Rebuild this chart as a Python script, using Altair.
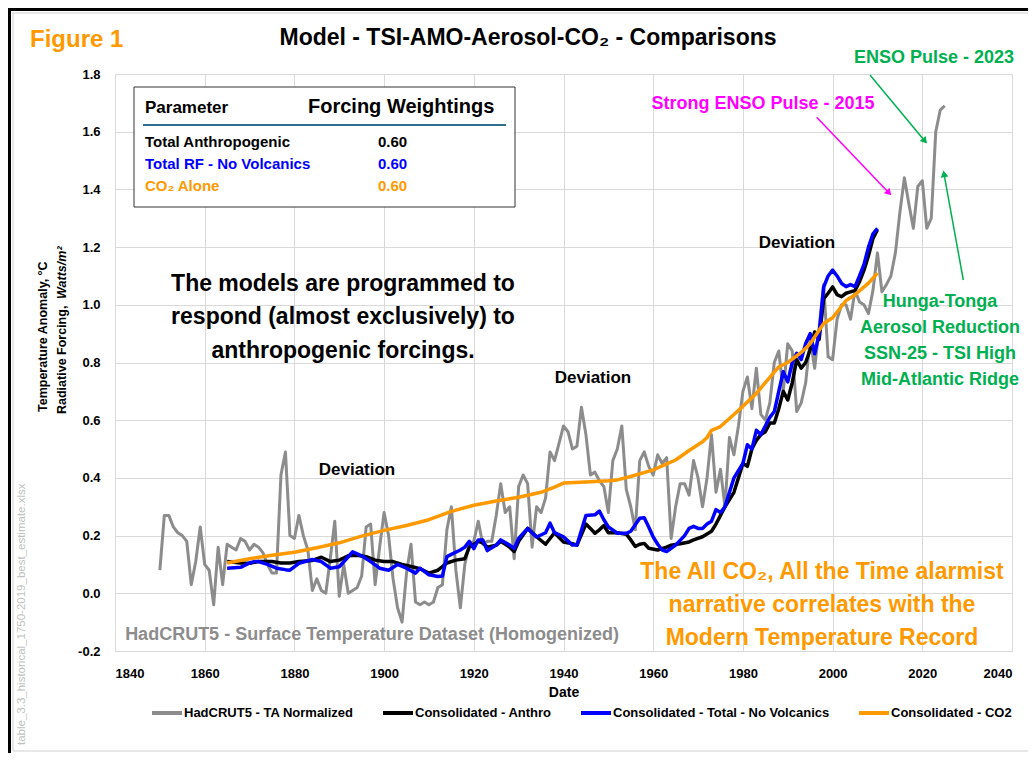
import math
import altair as alt
import pandas as pd

# ---------------- data ----------------
had_years = list(range(1850, 2026))
had_values = [
    0.08, 0.27, 0.27, 0.23, 0.21, 0.20, 0.18, 0.03, 0.11, 0.23,
    0.10, 0.08, -0.04, 0.16, 0.03, 0.17, 0.16, 0.15, 0.19, 0.18,
    0.15, 0.17, 0.16, 0.14, 0.10, 0.07, 0.07, 0.41, 0.49, 0.20,
    0.19, 0.27, 0.20, 0.15, 0.01, 0.05, 0.01, 0.00, 0.12, 0.25,
    -0.01, 0.10, 0.00, 0.01, 0.02, 0.06, 0.23, 0.24, 0.03, 0.16,
    0.28, 0.20, 0.05, -0.05, -0.10, 0.07, 0.17, -0.03, -0.04, -0.03,
    -0.04, -0.03, 0.02, 0.03, 0.22, 0.30, 0.08, -0.05, 0.10, 0.17,
    0.18, 0.25, 0.17, 0.18, 0.18, 0.27, 0.38, 0.28, 0.30, 0.12,
    0.37, 0.41, 0.38, 0.16, 0.30, 0.28, 0.33, 0.49, 0.46, 0.52,
    0.58, 0.56, 0.50, 0.51, 0.645, 0.55, 0.41, 0.42, 0.39, 0.37,
    0.28, 0.46, 0.50, 0.58, 0.36, 0.30, 0.22, 0.46, 0.49, 0.44,
    0.41, 0.48, 0.45, 0.47, 0.19, 0.30, 0.38, 0.38, 0.34, 0.46,
    0.40, 0.30, 0.40, 0.55, 0.35, 0.43, 0.30, 0.54, 0.48, 0.58,
    0.70, 0.75, 0.64, 0.78, 0.62, 0.60, 0.66, 0.80, 0.84, 0.70,
    0.865, 0.84, 0.63, 0.66, 0.73, 0.88, 0.78, 0.92, 1.07, 0.82,
    0.81, 0.95, 1.00, 1.00, 0.95, 1.05, 1.01, 1.00, 0.97, 1.05,
    1.18, 1.045, 1.07, 1.10, 1.18, 1.32, 1.44, 1.35, 1.265, 1.41,
    1.43, 1.265, 1.30, 1.60, 1.675, 1.69,
]

anthro_years = [
    1865, 1868, 1870, 1872, 1875, 1877, 1879, 1881, 1884, 1886, 1888, 1890,
    1892, 1894, 1896, 1898, 1900, 1902, 1904, 1906, 1908, 1910, 1912, 1914,
    1916, 1918, 1919, 1920, 1921, 1922, 1923, 1925, 1926, 1928, 1929, 1930,
    1932, 1934, 1936, 1937, 1938, 1940, 1942, 1943, 1945, 1946, 1947, 1948,
    1949, 1950, 1952, 1954, 1955, 1956, 1957, 1958, 1959, 1961, 1963, 1964,
    1966, 1968, 1969, 1971, 1973, 1974, 1975, 1976, 1978, 1979, 1980, 1981,
    1982, 1983, 1984, 1985, 1986, 1987, 1988, 1989, 1990, 1991, 1992, 1993,
    1994, 1995, 1996, 1997, 1998, 1999, 2000, 2001, 2002, 2003, 2004, 2005,
    2006, 2007, 2008, 2009, 2010,
]
anthro_values = [
    0.11, 0.105, 0.104, 0.11, 0.11, 0.105, 0.105, 0.11, 0.114, 0.125, 0.11, 0.115,
    0.13, 0.132, 0.127, 0.115, 0.11, 0.11, 0.10, 0.093, 0.085, 0.07, 0.08, 0.105,
    0.115, 0.12, 0.16, 0.17, 0.18, 0.175, 0.16, 0.167, 0.18, 0.16, 0.145, 0.18,
    0.225, 0.196, 0.17, 0.19, 0.21, 0.178, 0.172, 0.167, 0.24, 0.225, 0.208, 0.22,
    0.235, 0.21, 0.21, 0.205, 0.185, 0.162, 0.17, 0.173, 0.156, 0.15, 0.16, 0.167,
    0.172, 0.178, 0.185, 0.196, 0.215, 0.24, 0.27, 0.30, 0.35, 0.40, 0.45, 0.44,
    0.50, 0.53, 0.55, 0.56, 0.59, 0.59, 0.64, 0.70, 0.67, 0.73, 0.81, 0.78,
    0.80, 0.845, 0.906, 0.88, 1.02, 1.04, 1.062, 1.035, 1.028, 1.04, 1.045, 1.05,
    1.08, 1.12, 1.17, 1.23, 1.26,
]

total_years = [
    1865, 1868, 1870, 1871, 1872, 1874, 1876, 1878, 1879, 1881, 1884, 1886,
    1888, 1890, 1893, 1895, 1897, 1899, 1901, 1903, 1905, 1907, 1908, 1910,
    1912, 1913, 1914, 1915, 1917, 1918, 1919, 1920, 1921, 1922, 1923, 1925,
    1926, 1928, 1929, 1930, 1932, 1934, 1936, 1937, 1938, 1940, 1942, 1943,
    1945, 1947, 1948, 1949, 1950, 1952, 1954, 1955, 1957, 1958, 1959, 1960,
    1961, 1962, 1963, 1965, 1967, 1968, 1969, 1970, 1971, 1972, 1973, 1974,
    1975, 1976, 1977, 1978, 1980, 1981, 1982, 1983, 1984, 1985, 1986, 1987,
    1988, 1989, 1990, 1991, 1992, 1993, 1994, 1995, 1996, 1997, 1998, 1999,
    2000, 2001, 2002, 2003, 2004, 2005, 2006, 2007, 2008, 2009, 2010,
]
total_values = [
    0.087, 0.09, 0.105, 0.11, 0.11, 0.10, 0.087, 0.082, 0.08, 0.104, 0.117, 0.11,
    0.087, 0.092, 0.144, 0.13, 0.11, 0.087, 0.08, 0.10, 0.087, 0.07, 0.087, 0.064,
    0.058, 0.06, 0.127, 0.135, 0.15, 0.16, 0.18, 0.155, 0.185, 0.185, 0.148, 0.167,
    0.185, 0.167, 0.155, 0.19, 0.225, 0.195, 0.21, 0.243, 0.21, 0.196, 0.167, 0.167,
    0.27, 0.272, 0.285, 0.255, 0.23, 0.208, 0.208, 0.215, 0.26, 0.262, 0.23, 0.195,
    0.17, 0.15, 0.145, 0.167, 0.20, 0.225, 0.232, 0.225, 0.225, 0.24, 0.25, 0.29,
    0.28, 0.30, 0.35, 0.40, 0.45, 0.515, 0.50, 0.565, 0.55, 0.58, 0.61, 0.63,
    0.70, 0.768, 0.733, 0.80, 0.832, 0.81, 0.866, 0.90, 0.83, 0.90, 1.06, 1.10,
    1.12, 1.10, 1.074, 1.063, 1.07, 1.063, 1.10, 1.14, 1.20, 1.246, 1.265,
]

co2_years = [
    1865, 1870, 1875, 1880, 1885, 1890, 1895, 1900, 1905, 1910, 1915, 1920,
    1925, 1930, 1935, 1938, 1940, 1945, 1950, 1952, 1955, 1960, 1965, 1968,
    1971, 1972, 1973, 1975, 1978, 1980, 1983, 1985, 1988, 1990, 1993, 1995,
    1998, 2000, 2003, 2005, 2008, 2010,
]
co2_values = [
    0.105, 0.12, 0.132, 0.142, 0.158, 0.175, 0.198, 0.218, 0.235, 0.255, 0.284, 0.305,
    0.320, 0.333, 0.350, 0.368, 0.382, 0.386, 0.390, 0.393, 0.405, 0.428, 0.462, 0.495,
    0.525, 0.54, 0.565, 0.578, 0.62, 0.648, 0.693, 0.73, 0.785, 0.80, 0.835, 0.865,
    0.935, 0.955, 1.015, 1.035, 1.075, 1.110,
]

series_names = [
    "HadCRUT5 - TA Normalized",
    "Consolidated - Anthro",
    "Consolidated - Total - No Volcanics",
    "Consolidated - CO2",
]
series_colors = ["#8C8C8C", "#000000", "#0000FF", "#FF9900"]

x_ticks = [1840, 1860, 1880, 1900, 1920, 1940, 1960, 1980, 2000, 2020, 2040]
y_ticks = [-0.2, 0.0, 0.2, 0.4, 0.6, 0.8, 1.0, 1.2, 1.4, 1.6, 1.8]

table_params = ["Total Anthropogenic", "Total RF - No Volcanics", "CO\u2082 Alone"]
table_weights = ["0.60", "0.60", "0.60"]
table_colors = ["#000000", "#0000FF", "#FF9900"]

# ---------------- layout ----------------
FONT = "Liberation Sans"
W, H = 897, 577
PAD = {"left": 107, "top": 66, "right": 16, "bottom": 102}
X0 = 8 + PAD["left"]   # page x of plot origin
Y0 = 8 + PAD["top"]    # page y of plot origin


def rx(p):
    return p - X0


def ry(p):
    return p - Y0


x_scale = alt.Scale(domain=[1840, 2040], nice=False, zero=False)
y_scale = alt.Scale(domain=[-0.2, 1.8], nice=False, zero=False)

x_axis = alt.Axis(
    values=x_ticks, format="d", title="Date", grid=True, gridColor="#D9D9D9",
    domain=False, ticks=False, labelFont=FONT, labelFontSize=13,
    labelFontWeight="bold", labelColor="#000000", labelPadding=16,
    titleFont=FONT, titleFontSize=14, titleFontWeight="bold",
    titleColor="#000000", titlePadding=5,
)
y_axis = alt.Axis(
    values=y_ticks, title=None, grid=True, gridColor="#D9D9D9", domain=False,
    ticks=False, labelFont=FONT, labelFontSize=13, labelFontWeight="bold",
    labelColor="#000000", labelPadding=15,
    labelExpr="replace(format(datum.value, '.1f'), '\u2212', '-')",
)
color_scale = alt.Scale(domain=series_names, range=series_colors)
legend = alt.Legend(
    orient="none", legendX=35, legendY=622, direction="horizontal", title=None,
    symbolType="stroke", symbolStrokeWidth=4, symbolSize=900,
    labelFont=FONT, labelFontSize=13, labelFontWeight="bold",
    labelColor="#000000", labelOffset=0, columnPadding=21, labelLimit=400,
)


def line_layer(name, years, values, width):
    df = pd.DataFrame({"year": years, "value": values, "series": name})
    return alt.Chart(df).mark_line(strokeWidth=width, strokeJoin="round").encode(
        x=alt.X("year:Q", scale=x_scale, axis=x_axis),
        y=alt.Y("value:Q", scale=y_scale, axis=y_axis),
        color=alt.Color("series:N", scale=color_scale, legend=legend),
    )


def px_enc(chart, **extra):
    return chart.encode(
        x=alt.X("x:Q", scale=None, axis=None),
        y=alt.Y("y:Q", scale=None, axis=None),
        **extra,
    )


def text_layer(rows, **kw):
    df = pd.DataFrame([{"x": rx(a), "y": ry(b), "t": t} for a, b, t in rows])
    base = dict(font=FONT, fontWeight="bold", baseline="middle", align="center")
    base.update(kw)
    return px_enc(alt.Chart(df).mark_text(**base), text="t:N")


def rule_layer(segs, color, width):
    df = pd.DataFrame([{"x": rx(a), "y": ry(b), "x2": rx(c), "y2": ry(d)} for a, b, c, d in segs])
    return alt.Chart(df).mark_rule(color=color, strokeWidth=width).encode(
        x=alt.X("x:Q", scale=None, axis=None),
        y=alt.Y("y:Q", scale=None, axis=None),
        x2="x2:Q", y2="y2:Q",
    )


def arrow_layers(x1, y1, x2, y2, color):
    dx, dy = x2 - x1, y2 - y1
    L = math.hypot(dx, dy)
    ux, uy = dx / L, dy / L
    size = 60
    r = math.sqrt(size) / 2
    ang = math.degrees(math.atan2(dx, -dy)) % 360
    line = rule_layer([(x1, y1, x2 - ux * r, y2 - uy * r)], color, 1.5)
    head_df = pd.DataFrame([{"x": rx(x2 - ux * r), "y": ry(y2 - uy * r)}])
    head = px_enc(alt.Chart(head_df).mark_point(
        shape="triangle-up", filled=True, size=size, angle=ang,
        color=color, opacity=1))
    return [line, head]


layers = []

# frame
layers.append(rule_layer([(8, 9.5, 1028, 9.5), (9.5, 8, 9.5, 753)], "#000000", 3))
layers.append(rule_layer([(12, 13, 1028, 13), (13, 13, 13, 751), (13, 751, 1028, 751)], "#D0D0D0", 1))

# data lines
layers.append(line_layer(series_names[0], had_years, had_values, 3))
layers.append(line_layer(series_names[1], anthro_years, anthro_values, 3.5))
layers.append(line_layer(series_names[2], total_years, total_values, 3.5))
layers.append(line_layer(series_names[3], co2_years, co2_values, 3.5))

# parameter table box
box_df = pd.DataFrame([{"x": rx(134), "y": ry(87), "x2": rx(515), "y2": ry(207)}])
layers.append(alt.Chart(box_df).mark_rect(fill="#FFFFFF", stroke="#333333", strokeWidth=1).encode(
    x=alt.X("x:Q", scale=None, axis=None), y=alt.Y("y:Q", scale=None, axis=None),
    x2="x2:Q", y2="y2:Q"))
layers.append(rule_layer([(143, 125, 506, 125)], "#2E6E8E", 2))
layers.append(text_layer([(145, 108, "Parameter")], fontSize=17, align="left", color="#000000"))
layers.append(text_layer([(308, 107, "Forcing Weightings")], fontSize=20, align="left", color="#000000"))
for i, (p, w, c) in enumerate(zip(table_params, table_weights, table_colors)):
    yy = 142 + 22 * i
    layers.append(text_layer([(145, yy, p), (378, yy, w)], fontSize=15, align="left", color=c))

# titles
layers.append(text_layer([(30, 40, "Figure 1")], fontSize=24, align="left", color="#FF9900"))
layers.append(text_layer([(528, 38, "Model - TSI-AMO-Aerosol-CO\u2082 - Comparisons")], fontSize=23, color="#000000"))

# y-axis title (two rotated lines)
layers.append(text_layer([(43, 412, "Temperature Anomaly, \u00b0C")], fontSize=12.5, angle=270, align="left", color="#000000"))
layers.append(text_layer([(62, 414, "Radiative Forcing, ")], fontSize=12.5, angle=270, align="left", color="#000000"))
layers.append(text_layer([(62, 299, "Watts/m\u00b2")], fontSize=12.5, angle=270, align="left", fontStyle="italic", color="#000000"))

# side file note
layers.append(text_layer([(22, 745, "table_3.3_historical_1750-2019_best_estimate.xlsx")],
                         fontSize=11.5, angle=270, align="left", fontWeight="normal", color="#BFBFBF"))

# annotations
layers.append(text_layer([(343, 284, "The models are programmed to"),
                          (343, 317, "respond (almost exclusively) to"),
                          (343, 351, "anthropogenic forcings.")], fontSize=23, color="#000000"))
layers.append(text_layer([(357, 470, "Deviation"), (593, 378, "Deviation"), (797, 243, "Deviation")],
                         fontSize=17, color="#000000"))
layers.append(text_layer([(372, 635, "HadCRUT5 - Surface Temperature Dataset (Homogenized)")],
                         fontSize=18, color="#8C8C8C"))
layers.append(text_layer([(822, 572, "The All CO\u2082, All the Time alarmist"),
                          (822, 605, "narrative correlates with the"),
                          (822, 638, "Modern Temperature Record")], fontSize=23, color="#FF9900"))
layers.append(text_layer([(934, 58, "ENSO Pulse - 2023")], fontSize=18, color="#00B050"))
layers.append(text_layer([(763, 104, "Strong ENSO Pulse - 2015")], fontSize=18, color="#FF00FF"))
layers.append(text_layer([(940, 302, "Hunga-Tonga"), (940, 328, "Aerosol Reduction"),
                          (940, 354, "SSN-25 - TSI High"), (940, 380, "Mid-Atlantic Ridge")],
                         fontSize=18, color="#00B050"))

layers += arrow_layers(816.7, 117.3, 891.7, 195.7, "#FF00FF")
layers += arrow_layers(870, 75, 927.3, 144, "#00B050")
layers += arrow_layers(963.3, 280, 943.3, 170, "#00B050")

chart = alt.layer(*layers).properties(
    width=W, height=H,
    autosize=alt.AutoSizeParams(type="none"),
    padding=PAD,
    background="#FFFFFF",
).configure_view(strokeWidth=0)

chart.save("out.html", embed_options={"renderer": "svg", "actions": False})
